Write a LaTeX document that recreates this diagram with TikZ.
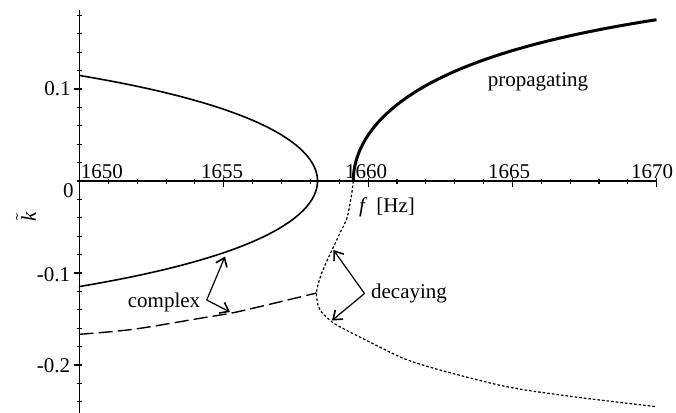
\documentclass[tikz,border=0pt]{standalone}
\usepackage{fontspec}
\setmainfont{Liberation Serif}
\usetikzlibrary{arrows.meta}
\begin{document}
\begin{tikzpicture}[x=0.5pt,y=-0.5pt,
  axisline/.style={line width=0.75pt},
  tickline/.style={line width=0.55pt},
  curve/.style={line width=0.8pt},
  thickcurve/.style={line width=1.5pt},
  dashcurve/.style={line width=0.7pt, dash pattern=on 7pt off 2.6pt},
  dotcurve/.style={line width=0.6pt, dash pattern=on 1.3pt off 1pt},
  pointer/.style={line width=0.6pt, -{Straight Barb[length=4pt,width=6pt,line width=0.8pt]}},
  lbl/.style={font=\fontsize{10.5}{12}\selectfont, inner sep=0pt},
]
\useasboundingbox (0,0) rectangle (676,413);

% axes
\coordinate (yaxtop) at (79.5,10);
\coordinate (yaxbot) at (79.5,413);
\coordinate (xaxl) at (79.5,181);
\coordinate (xaxr) at (657,181);
\draw[axisline] (yaxtop) -- (yaxbot);
\draw[axisline] (xaxl) -- (xaxr);

% y ticks
\foreach \n in {-12,...,9} {
  \pgfmathsetmacro\yy{181-18.4*\n}
  \draw[tickline] (77,\yy) -- (82,\yy);
}
\foreach \n in {-10,-5,5} {
  \pgfmathsetmacro\yy{181-18.4*\n}
  \draw[tickline] (73.5,\yy) -- (82,\yy);
}
% x ticks
\foreach \m in {1,...,20} {
  \pgfmathsetmacro\xx{79.5+28.86*\m}
  \draw[tickline] (\xx,178.5) -- (\xx,183.5);
}
\foreach \m in {5,10,15,20} {
  \pgfmathsetmacro\xx{79.5+28.86*\m}
  \draw[tickline] (\xx,177.5) -- (\xx,186.5);
}

% tick labels
\node[lbl,anchor=base] (x1650) at (102,178) {1650};
\node[lbl,anchor=base] (x1655) at (222,178) {1655};
\node[lbl,anchor=base] (x1660) at (366,178) {1660};
\node[lbl,anchor=base] (x1665) at (509,178) {1665};
\node[lbl,anchor=base] (x1670) at (652,178) {1670};
\node[lbl,anchor=east] (yp1) at (71,88.5) {0.1};
\node[lbl,anchor=east] (y0) at (74,190.5) {0};
\node[lbl,anchor=east] (ym1) at (70.5,275) {-0.1};
\node[lbl,anchor=east] (ym2) at (70.5,366) {-0.2};

% axis labels
\node[lbl] (flab) at (387,207) {\textit{f}\hspace{4.5pt}[Hz]};
\node[lbl,rotate=90] (klab) at (26,217) {$\tilde{\mbox{\itshape k}}$};

% left solid branch
\draw[curve] plot[domain=-2.876:2.876, samples=121, variable=\t]
  ({317.5-28.86*\t*\t}, {181-920*\t/sqrt(475+18.4*\t*\t)});

% dashed branch
\draw[dashcurve] plot[smooth] coordinates {
  (79.5,334.3) (133.3,329.3) (200,318.3) (233.3,312.7) (266.7,305) (316.5,293)};

% propagating (thick)
\draw[thickcurve] plot[domain=0:3.242, samples=80, variable=\t]
  ({353.3+28.86*\t*\t}, {181-920*\t/sqrt(200+13.5*\t*\t)});

% decaying (dotted)
\draw[dotcurve] plot[smooth] coordinates {
  (353.3,181) (351.5,195) (347,218) (340,233) (332.5,249) (325.5,264) (320,278)
  (316.5,293) (319.5,309) (331.7,321.7) (346,330) (366.7,340.5) (403.3,358.3)
  (440,370) (506.7,386.7) (573.3,396.7) (656.7,406.7)};

% text labels
\node[lbl,anchor=base] (prop) at (538,86) {propagating};
\node[lbl,anchor=base] (cplx) at (164,307.5) {complex};
\node[lbl,anchor=base] (dec) at (409,298.5) {decaying};

% pointers
\coordinate (cv) at (206.7,300);
\coordinate (ct1) at (225,256.5);
\coordinate (ct2) at (230,312);
\draw[pointer] (cv) -- (ct1);
\draw[pointer] (cv) -- (ct2);
\coordinate (dv) at (364.5,293.5);
\coordinate (dt1) at (333.5,250);
\coordinate (dt2) at (332,320.5);
\draw[pointer] (dv) -- (dt1);
\draw[pointer] (dv) -- (dt2);
\end{tikzpicture}
\end{document}
